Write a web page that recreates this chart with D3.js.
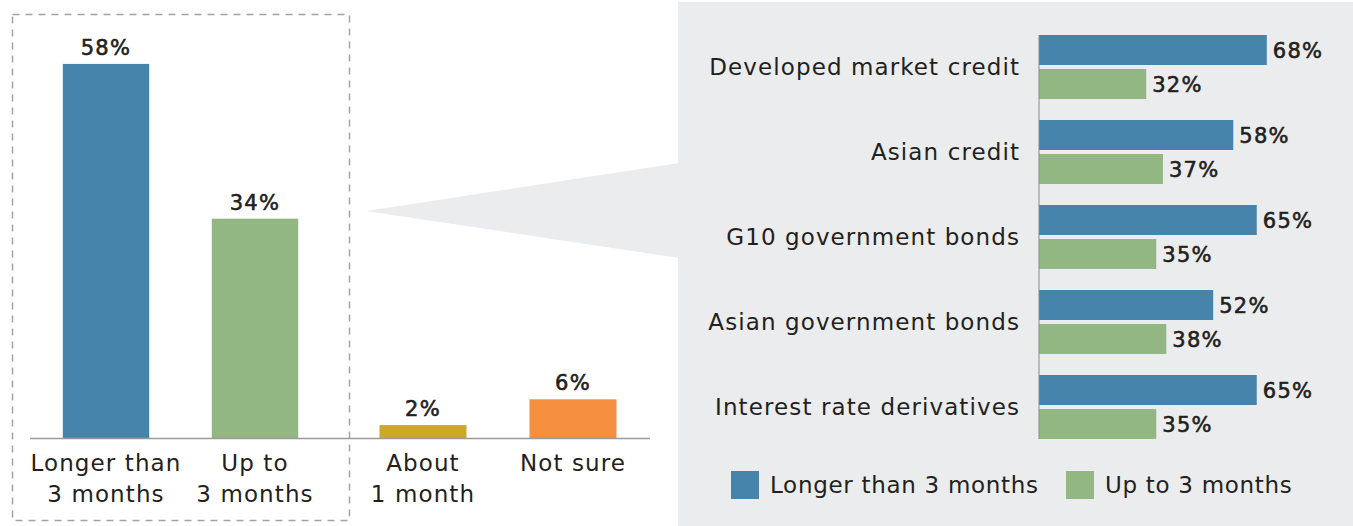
<!DOCTYPE html>
<html>
<head>
<meta charset="utf-8">
<script src="https://cdn.jsdelivr.net/npm/d3@7"></script>
<style>
  body { margin: 0; background: #fff; }
  svg text { font-family: "DejaVu Sans", sans-serif; fill: #231f20; }
  .cat { font-size: 23px; letter-spacing: 1.1px; }
  .leg { font-size: 23px; letter-spacing: 0.7px; }
  .val { font-size: 21px; letter-spacing: 1.3px; stroke: #231f20; stroke-width: 0.6px; }
</style>
</head>
<body>
<svg id="chart" width="1353" height="526"></svg>
<script>
// LEFT CHART DATA
const leftCategoriesA = ['Longer than|3 months', 'Up to|3 months'];
const leftCategoriesB = ['About|1 month', 'Not sure'];
const leftValuesA = [58, 34];
const leftValuesB = [2, 6];
const leftColorsA = ['#4784ab', '#93b783'];
const leftColorsB = ['#cca82b', '#f4903f'];

// RIGHT CHART DATA
const assetClasses = ['Developed market credit', 'Asian credit', 'G10 government bonds', 'Asian government bonds', 'Interest rate derivatives'];
const seriesNames = ['Longer than 3 months', 'Up to 3 months'];
const longerValues = [68, 58, 65, 52, 65];
const upToValues = [32, 37, 35, 38, 35];
const seriesColors = ['#4784ab', '#93b783'];

const svg = d3.select('#chart');
const panelColor = '#ebecee';

// gray panel + pointer
svg.append('rect')
    .attr('x', 678).attr('y', 2)
    .attr('width', 675).attr('height', 524)
    .attr('fill', panelColor);

svg.append('polygon')
    .attr('points', '366,211 679,163 679,258')
    .attr('fill', panelColor);

// dashed box
svg.append('rect')
    .attr('x', 12.5).attr('y', 14.5)
    .attr('width', 337).attr('height', 506)
    .attr('fill', 'none')
    .attr('stroke', '#a3a3a3')
    .attr('stroke-width', 1.5)
    .attr('stroke-dasharray', '7,6');

//LEFT SCALES
const yLeft = d3.scaleLinear().domain([0, 60]).range([438, 51]);
const xLeftA = d3.scaleBand().domain(leftCategoriesA).range([31.5, 329.5]).paddingInner(0.42).paddingOuter(0.21);
const xLeftB = d3.scaleBand().domain(leftCategoriesB).range([348, 648]).paddingInner(0.42).paddingOuter(0.21);

const drawLeftGroup = (cats, vals, cols, x) => {
    const g = svg.append('g');
    const rows = cats.map((c, i) => ({ c, v: vals[i], col: cols[i] }));

    g.selectAll('rect').data(rows).join('rect')
        .attr('x', d => x(d.c))
        .attr('y', d => yLeft(d.v))
        .attr('width', x.bandwidth())
        .attr('height', d => yLeft(0) - yLeft(d.v))
        .attr('fill', d => d.col);

    g.selectAll('text.val').data(rows).join('text')
        .attr('class', 'val')
        .attr('x', d => x(d.c) + x.bandwidth() / 2)
        .attr('y', d => yLeft(d.v) - 9)
        .attr('text-anchor', 'middle')
        .text(d => d.v + '%');

    const labels = g.selectAll('text.cat').data(rows).join('text')
        .attr('class', 'cat')
        .attr('x', d => x(d.c) + x.bandwidth() / 2)
        .attr('y', 471)
        .attr('text-anchor', 'middle');
    labels.each(function(d) {
        const lines = d.c.split('|');
        d3.select(this).selectAll('tspan').data(lines).join('tspan')
            .attr('x', x(d.c) + x.bandwidth() / 2)
            .attr('dy', (l, i) => i === 0 ? 0 : 31)
            .text(l => l);
    });
}

drawLeftGroup(leftCategoriesA, leftValuesA, leftColorsA, xLeftA);
drawLeftGroup(leftCategoriesB, leftValuesB, leftColorsB, xLeftB);

// baseline
svg.append('line')
    .attr('x1', 30).attr('x2', 650)
    .attr('y1', yLeft(0) + 0.5).attr('y2', yLeft(0) + 0.5)
    .attr('stroke', '#9a9a9a').attr('stroke-width', 1.5);

//RIGHT SCALES
const xRight = d3.scaleLinear().domain([0, 100]).range([1039, 1374]);
const yRight = d3.scaleBand().domain(assetClasses).range([35, 439]).paddingInner(0.247).paddingOuter(0);
const ySub = d3.scaleBand().domain(seriesNames).range([0, yRight.bandwidth()]).paddingInner(0.118).paddingOuter(0);

const rightRows = [];
assetClasses.forEach((a, i) => {
    rightRows.push({ a, s: seriesNames[0], v: longerValues[i], col: seriesColors[0] });
    rightRows.push({ a, s: seriesNames[1], v: upToValues[i], col: seriesColors[1] });
});

const rg = svg.append('g');

rg.selectAll('rect').data(rightRows).join('rect')
    .attr('x', xRight(0))
    .attr('y', d => yRight(d.a) + ySub(d.s))
    .attr('width', d => xRight(d.v) - xRight(0))
    .attr('height', ySub.bandwidth())
    .attr('fill', d => d.col);

rg.selectAll('text.val').data(rightRows).join('text')
    .attr('class', 'val')
    .attr('x', d => xRight(d.v) + 6)
    .attr('y', d => yRight(d.a) + ySub(d.s) + ySub.bandwidth() / 2)
    .attr('dy', '0.36em')
    .text(d => d.v + '%');

rg.selectAll('text.cat').data(assetClasses).join('text')
    .attr('class', 'cat')
    .attr('x', 1020)
    .attr('y', d => yRight(d) + yRight.bandwidth() / 2)
    .attr('dy', '0.36em')
    .attr('text-anchor', 'end')
    .text(d => d);

// axis line
svg.append('line')
    .attr('x1', xRight(0)).attr('x2', xRight(0))
    .attr('y1', 35).attr('y2', 439)
    .attr('stroke', '#8a8a8a').attr('stroke-width', 1);

// LEGEND
const legendX = [731, 1066];
const legend = svg.append('g').selectAll('g').data(seriesNames).join('g')
    .attr('transform', (d, i) => `translate(${legendX[i]},471)`);
legend.append('rect')
    .attr('width', 28).attr('height', 28)
    .attr('fill', (d, i) => seriesColors[i]);
legend.append('text')
    .attr('class', 'leg')
    .attr('x', 39).attr('y', 14).attr('dy', '0.36em')
    .text(d => d);
</script>
</body>
</html>
